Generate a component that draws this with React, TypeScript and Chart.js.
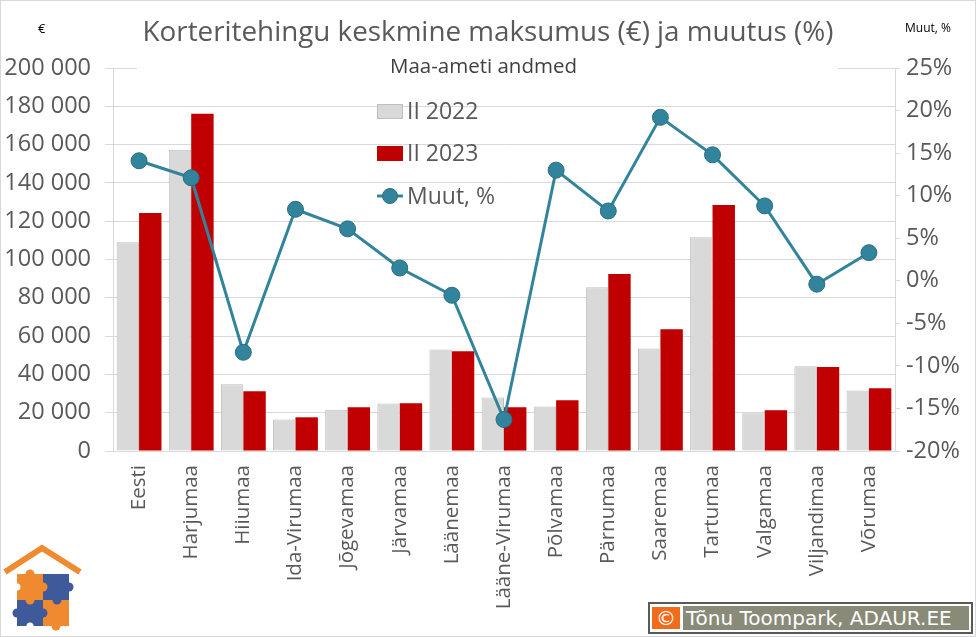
import React, { useEffect, useRef } from "react";
import { Chart, registerables } from "chart.js";

Chart.register(...registerables);

const categories = [
  "Eesti", "Harjumaa", "Hiiumaa", "Ida-Virumaa", "Jõgevamaa", "Järvamaa", "Läänemaa",
  "Lääne-Virumaa", "Põlvamaa", "Pärnumaa", "Saaremaa", "Tartumaa", "Valgamaa", "Viljandimaa", "Võrumaa",
];
const price2022 = [109000, 157300, 34900, 16400, 21600, 24800, 53000, 27900, 23200, 85500, 53500, 111600, 19700, 44300, 31600];
const price2023 = [124300, 176100, 31200, 17600, 22900, 24900, 52100, 22900, 26500, 92400, 63600, 128500, 21300, 43800, 32800];
const changePct = [14.1, 12.1, -8.4, 8.4, 6.1, 1.5, -1.7, -16.3, 13.0, 8.2, 19.2, 14.8, 8.8, -0.4, 3.3];

const seriesLabels = ["II 2022", "II 2023", "Muut, %"];
const leftAxis = { min: 0, max: 200000, step: 20000 };
const rightAxis = { min: -20, max: 25, step: 5 };

const TITLE = "Korteritehingu keskmine maksumus (€) ja muutus (%)";
const SUBTITLE = "Maa-ameti andmed";
const LEFT_UNIT = "€";
const RIGHT_UNIT = "Muut, %";
const CREDIT = "Tõnu Toompark, ADAUR.EE";

const FONT = "'Open Sans', sans-serif";
const TEXT = "#595959";
const GRID = "#d9d9d9";
const TEAL = "#31849b";

const fmtThousands = (v: number) => {
  const s = Math.round(v).toString();
  return s.replace(/\B(?=(\d{3})+(?!\d))/g, " ");
};

const insideLegend = {
  id: "insideLegend",
  afterDraw(chart: any) {
    const ctx = chart.ctx as CanvasRenderingContext2D;
    const ds = chart.data.datasets;
    const x0 = 377;
    const rows = [111.5, 153.5, 196];
    ctx.save();
    ctx.font = `23px ${FONT}`;
    ctx.textBaseline = "middle";
    ctx.fillStyle = TEXT;
    ds.forEach((d: any, i: number) => {
      const y = rows[i];
      if (d.type === "line") {
        ctx.strokeStyle = d.borderColor;
        ctx.lineWidth = 3;
        ctx.beginPath();
        ctx.moveTo(x0, y);
        ctx.lineTo(x0 + 26, y);
        ctx.stroke();
        ctx.beginPath();
        ctx.arc(x0 + 13, y, 7.5, 0, Math.PI * 2);
        ctx.fillStyle = d.pointBackgroundColor;
        ctx.fill();
        ctx.lineWidth = 1;
        ctx.strokeStyle = d.pointBorderColor;
        ctx.stroke();
      } else {
        ctx.fillStyle = d.backgroundColor;
        ctx.fillRect(x0, y - 7.5, 26, 15);
        if (d.borderWidth) {
          ctx.strokeStyle = d.borderColor;
          ctx.lineWidth = 1;
          ctx.strokeRect(x0 + 0.5, y - 7, 25, 14);
        }
      }
      ctx.fillStyle = TEXT;
      ctx.fillText(d.label, x0 + 30, y + 1);
    });
    ctx.restore();
  },
};

function ChartCanvas() {
  const ref = useRef<HTMLCanvasElement | null>(null);
  useEffect(() => {
    if (!ref.current) return;
    Chart.defaults.font.family = FONT;
    const chart = new Chart(ref.current, {
      data: {
        labels: categories,
        datasets: [
          {
            type: "bar",
            label: seriesLabels[0],
            data: price2022,
            backgroundColor: "#d9d9d9",
            borderColor: "#bfbfbf",
            borderWidth: 1,
            yAxisID: "y",
            order: 2,
            categoryPercentage: 0.86,
            barPercentage: 1.0,
          } as any,
          {
            type: "bar",
            label: seriesLabels[1],
            data: price2023,
            backgroundColor: "#c00000",
            borderWidth: 0,
            yAxisID: "y",
            order: 2,
            categoryPercentage: 0.86,
            barPercentage: 1.0,
          } as any,
          {
            type: "line",
            label: seriesLabels[2],
            data: changePct,
            borderColor: TEAL,
            borderWidth: 3,
            pointRadius: 8,
            pointBackgroundColor: TEAL,
            pointBorderColor: "#2a6e82",
            pointBorderWidth: 1,
            yAxisID: "y1",
            order: 0,
            tension: 0,
          } as any,
        ],
      },
      options: {
        responsive: false,
        animation: false,
        layout: { padding: { top: 68, left: 0, right: 0, bottom: 0 } },
        plugins: { legend: { display: false }, tooltip: { enabled: false }, title: { display: false } },
        scales: {
          x: {
            offset: true,
            grid: { display: false },
            border: { color: GRID, width: 1 },
            ticks: {
              color: TEXT,
              font: { size: 20.5 },
              minRotation: 90,
              maxRotation: 90,
              autoSkip: false,
              padding: 6,
            },
            afterFit: (s: any) => { s.height = 186; },
          },
          y: {
            position: "left",
            min: leftAxis.min,
            max: leftAxis.max,
            grid: { color: GRID, lineWidth: 1, tickLength: 8, drawTicks: true },
            border: { color: GRID, width: 1 },
            ticks: {
              stepSize: leftAxis.step,
              color: TEXT,
              font: { size: 23.5 },
              padding: 14,
              callback: (v: any) => fmtThousands(Number(v)),
            },
            afterFit: (s: any) => { s.width = 113; },
          },
          y1: {
            position: "right",
            min: rightAxis.min,
            max: rightAxis.max,
            grid: { drawOnChartArea: false, color: GRID, tickLength: 5 },
            border: { color: GRID, width: 1 },
            ticks: {
              stepSize: rightAxis.step,
              color: TEXT,
              font: { size: 23.5 },
              padding: 6,
              callback: (v: any) => `${v}%`,
            },
            afterFit: (s: any) => { s.width = 81; },
          },
        },
      } as any,
      plugins: [insideLegend],
    });
    return () => chart.destroy();
  }, []);
  return <canvas ref={ref} width={976} height={637} style={{ position: "absolute", left: 0, top: 0, width: 976, height: 637 }} />;
}

function Logo() {
  const orange = "#f08a31";
  const blue = "#3f5a9a";
  return (
    <svg width={90} height={95} style={{ position: "absolute", left: 0, top: 540 }} viewBox="0 0 90 95">
      <polyline points="5,32 42,8 80,32" fill="none" stroke={orange} strokeWidth={6} />
      <rect x={17} y={34} width={26} height={26} fill={orange} />
      <rect x={43} y={34} width={26} height={26} fill={blue} />
      <rect x={17} y={60} width={26} height={26} fill={blue} />
      <rect x={43} y={60} width={26} height={26} fill={orange} />
      <circle cx={30} cy={34} r={4.5} fill={orange} />
      <circle cx={43} cy={47} r={4.5} fill={orange} />
      <circle cx={69} cy={47} r={4.5} fill={blue} />
      <circle cx={57} cy={60} r={4.5} fill={blue} />
      <circle cx={30} cy={60} r={4.5} fill={orange} />
      <circle cx={17} cy={73} r={4.5} fill={blue} />
      <circle cx={43} cy={73} r={4.5} fill={blue} />
      <circle cx={56} cy={86} r={4.5} fill={orange} />
      <circle cx={30} cy={86} r={3.5} fill="#fff" />
      <circle cx={17} cy={47} r={3.5} fill="#fff" />
    </svg>
  );
}

export default function App() {
  return (
    <div
      style={{
        position: "absolute",
        left: 0,
        top: 0,
        width: 976,
        height: 637,
        background: "#fff",
        overflow: "hidden",
        fontFamily: FONT,
      }}
    >
      <ChartCanvas />
      <div style={{ position: "absolute", left: 0, top: 10, width: 976, textAlign: "center", fontSize: 27.8, lineHeight: "40px", color: TEXT }}>
        {TITLE}
      </div>
      <div style={{ position: "absolute", left: 137, top: 52, width: 701, height: 27, background: "#fff", textAlign: "center", fontSize: 20.5, lineHeight: "27px", color: "#404040" }}>
        <span style={{ position: "relative", left: -4 }}>{SUBTITLE}</span>
      </div>
      <div style={{ position: "absolute", left: 38, top: 20, fontSize: 13, lineHeight: "16px", color: "#000" }}>{LEFT_UNIT}</div>
      <div style={{ position: "absolute", left: 905, top: 20, fontSize: 12, lineHeight: "16px", color: "#000" }}>{RIGHT_UNIT}</div>
      <Logo />
      <div
        style={{
          position: "absolute",
          left: 648,
          top: 602,
          width: 325,
          height: 32,
          boxSizing: "border-box",
          border: "2px solid #595959",
          background: "#fff",
          display: "flex",
          alignItems: "center",
          padding: "0 2px",
          gap: 3,
        }}
      >
        <div style={{ width: 28, height: 22, background: "#f26a1b", color: "#fff", fontFamily: "'DejaVu Sans', sans-serif", fontSize: 20, lineHeight: "22px", textAlign: "center" }}>©</div>
        <div style={{ flex: 1, height: 24, background: "#8a8a78", color: "#fff", fontFamily: "'DejaVu Sans', sans-serif", fontSize: 20, lineHeight: "24px", paddingLeft: 3, whiteSpace: "nowrap" }}>
          {CREDIT}
        </div>
      </div>
      <div style={{ position: "absolute", inset: 0, border: "1px solid #d9d9d9", pointerEvents: "none" }} />
    </div>
  );
}
